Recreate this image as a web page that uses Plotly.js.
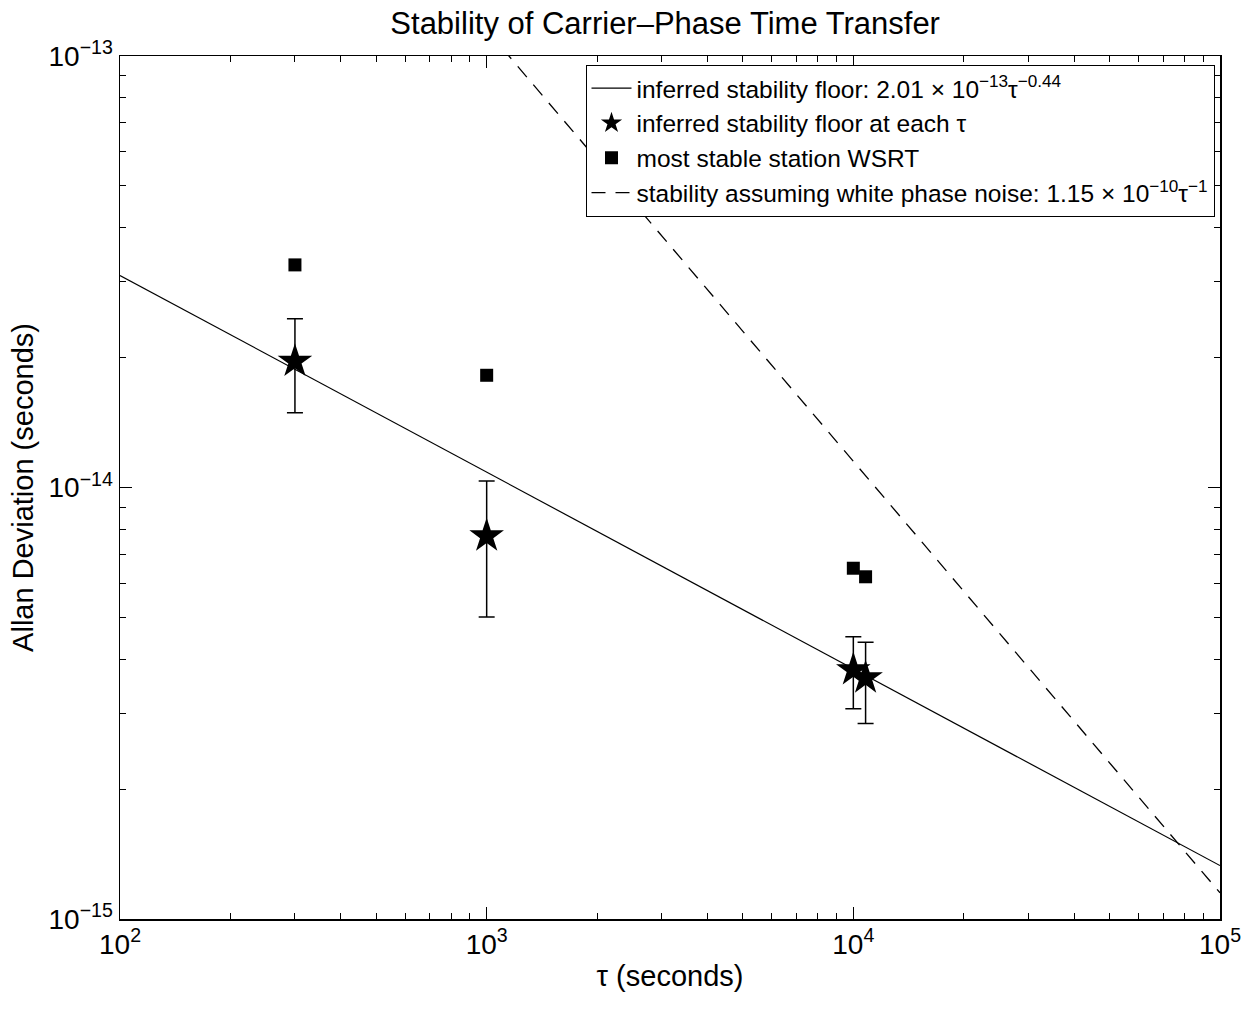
<!DOCTYPE html>
<html>
<head>
<meta charset="utf-8">
<script src="https://cdn.plot.ly/plotly-3.0.1.min.js"></script>
<style>html,body{margin:0;padding:0;background:#fff;}#chart{width:1255px;height:1010px;}</style>
</head>
<body>
<div id="chart"></div>
<script>
// Fitted floor line (endpoints)
const floorTau = [100, 100000];
const floorDev = [3.1e-14, 1.33e-15];

// Inferred stability floor at each tau (stars) with error bars
const starTau = [300, 1000, 10000, 10800];
const starDev = [1.96e-14, 7.72e-15, 3.78e-15, 3.62e-15];
const starErrHi = [2.46e-14, 1.035e-14, 4.51e-15, 4.38e-15];
const starErrLo = [1.49e-14, 5.01e-15, 3.07e-15, 2.84e-15];

// Most stable station WSRT (squares)
const wsrtTau = [300, 1000, 10000, 10800];
const wsrtDev = [3.28e-14, 1.82e-14, 6.5e-15, 6.21e-15];

// White phase noise line 1.15e-10 / tau (endpoints)
const whiteTau = [1000, 100000];
const whiteDev = [1.15e-13, 1.15e-15];

const xMajor = [100, 1000, 10000, 100000];
const xMajorText = ['10<sup>2</sup>', '10<sup>3</sup>', '10<sup>4</sup>', '10<sup>5</sup>'];
const yMajor = [1e-15, 1e-14, 1e-13];
const yMajorText = ['10<sup>\u221215</sup>', '10<sup>\u221214</sup>', '10<sup>\u221213</sup>'];

function minorVals(lo, hi) {
  const out = [];
  for (let e = lo; e < hi; e++) for (let m = 2; m <= 9; m++) out.push(m * Math.pow(10, e));
  return out;
}

const errPlus = starErrHi.map((v, i) => v - starDev[i]);
const errMinus = starErrLo.map((v, i) => starDev[i] - v);

const traces = [
  {x: floorTau, y: floorDev, mode: 'lines', type: 'scatter',
   name: 'inferred stability floor: 2.01 \u00d7 10<sup>\u221213</sup>\u03c4<sup>\u22120.44</sup>',
   line: {color: 'black', width: 1.2}},
  {x: starTau, y: starDev, mode: 'markers', type: 'scatter',
   name: 'inferred stability floor at each \u03c4',
   marker: {symbol: 'star', size: 26, color: 'black'},
   error_y: {type: 'data', symmetric: false, array: errPlus, arrayminus: errMinus,
             color: 'black', thickness: 1.5, width: 8}},
  {x: wsrtTau, y: wsrtDev, mode: 'markers', type: 'scatter',
   name: 'most stable station WSRT',
   marker: {symbol: 'square', size: 13, color: 'black'}},
  {x: whiteTau, y: whiteDev, mode: 'lines', type: 'scatter',
   name: 'stability assuming white phase noise: 1.15 \u00d7 10<sup>\u221210</sup>\u03c4<sup>\u22121</sup>',
   line: {color: 'black', width: 1.3, dash: '14px,10px'}}
];

const axisCommon = {
  type: 'log', showgrid: false, zeroline: false,
  showline: true, linecolor: 'black', linewidth: 1.5, mirror: 'allticks',
  ticks: 'inside', ticklen: 12, tickwidth: 1, tickcolor: 'black',
  tickmode: 'array', tickfont: {size: 28, color: 'black'}
};

const layout = {
  width: 1255, height: 1010,
  margin: {l: 120, r: 35, t: 56, b: 91},
  paper_bgcolor: 'white', plot_bgcolor: 'white',
  font: {family: '"Liberation Sans", Arial, Helvetica, sans-serif', color: 'black'},
  title: {text: 'Stability of Carrier\u2013Phase Time Transfer', font: {size: 31}, x: 0.53, xanchor: 'center', y: 0.988, yanchor: 'top'},
  xaxis: Object.assign({}, axisCommon, {
    range: [2, 5], tickvals: xMajor, ticktext: xMajorText,
    minor: {tickmode: 'array', tickvals: minorVals(2, 5), ticks: 'inside', ticklen: 6, tickcolor: 'black', tickwidth: 1},
    title: {text: '\u03c4 (seconds)', font: {size: 29}, standoff: 6}
  }),
  yaxis: Object.assign({}, axisCommon, {
    range: [-15, -13], tickvals: yMajor, ticktext: yMajorText,
    minor: {tickmode: 'array', tickvals: minorVals(-15, -13), ticks: 'inside', ticklen: 6, tickcolor: 'black', tickwidth: 1},
    title: {text: 'Allan Deviation (seconds)', font: {size: 29}, standoff: 6}
  }),
  showlegend: true,
  legend: {x: 0.995, y: 0.99, xanchor: 'right', yanchor: 'top',
           bgcolor: 'white', bordercolor: 'black', borderwidth: 1,
           font: {size: 24.5, color: 'black'}, tracegroupgap: 0, itemwidth: 40}
};

Plotly.newPlot('chart', traces, layout, {displayModeBar: false, staticPlot: true});
</script>
</body>
</html>
